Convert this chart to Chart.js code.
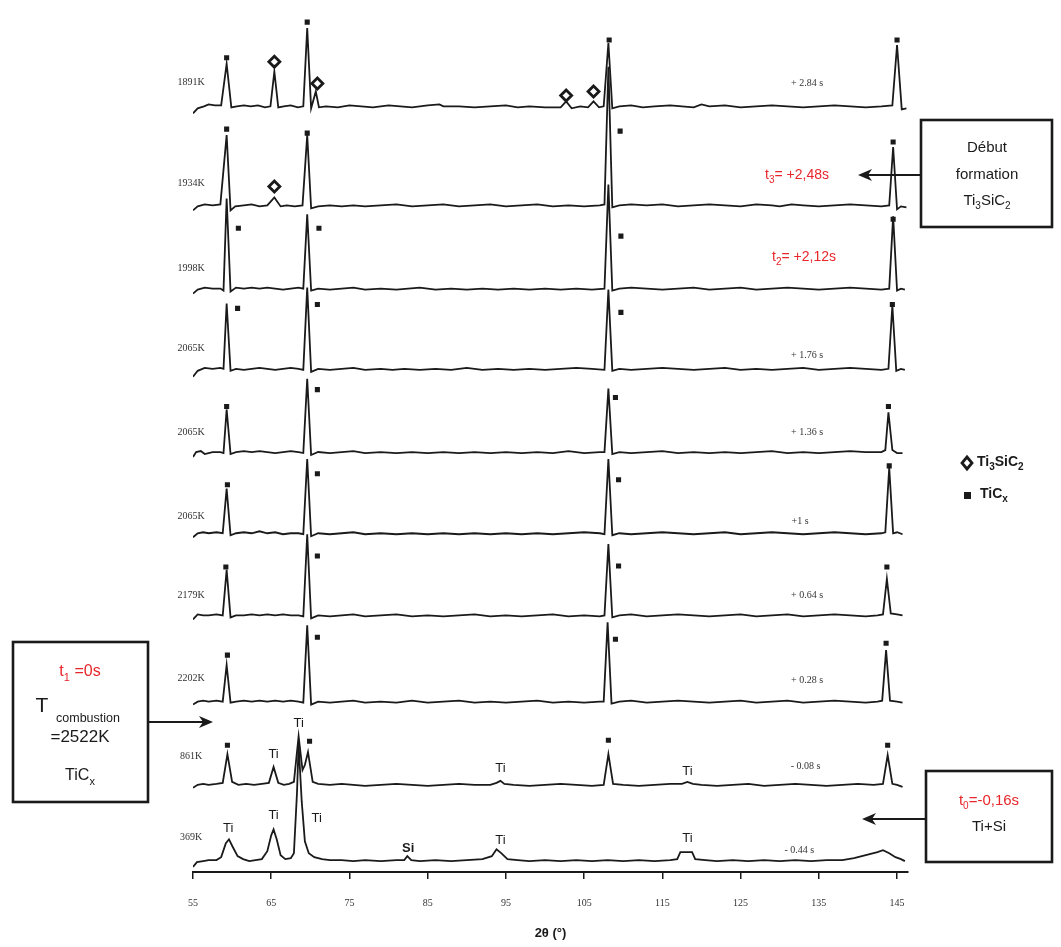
<!DOCTYPE html>
<html>
<head>
<meta charset="utf-8">
<script src="https://cdn.jsdelivr.net/npm/chart.js@4/dist/chart.umd.min.js"></script>
<style>
  html, body { margin: 0; padding: 0; background: #fff; }
  canvas { display: block; }
</style>
</head>
<body>
<canvas id="xrd" width="1061" height="947"></canvas>
<script>
// 2θ axis
const tickValues = [55, 65, 75, 85, 95, 105, 115, 125, 135, 145];
const tickLabels = ['55', '65', '75', '85', '95', '105', '115', '125', '135', '145'];

// one diffractogram per temperature, top to bottom
const tempLabels = ['1891K', '1934K', '1998K', '2065K', '2065K', '2065K', '2179K', '2202K', '861K', '369K'];
const timeLabels = ['+ 2.84 s', null, null, '+ 1.76 s', '+ 1.36 s', '+1 s', '+ 0.64 s', '+ 0.28 s', '- 0.08 s', '- 0.44 s'];
const offsets = [773, 673, 589, 508, 424, 342, 259, 172, 88, 11];

// [2θ, intensity above the trace's own baseline]
const t1891 = [[55,-7],[55.6,-2],[56.4,0],[57,2],[57.8,1],[58.6,1],[59.3,43],[59.9,-1],[60.6,0],[61.5,1],[62.4,0],[63.3,1],[64.2,-1],[64.9,0],[65.4,35],[65.9,-1],[66.6,0],[67.5,1],[68.4,-1],[69.1,0],[69.6,79],[70.1,-2],[70.7,15],[71.1,-1],[72,0],[73.5,-1],[75,1],[76.5,0],[78,-1],[80,1],[81.5,0],[83,-1],[85,1],[86.5,2],[87,0],[89,0],[91,-1],[93,0],[95,1],[96.5,-1],[98,0],[100,-1],[102,-1],[102.7,5],[103.4,-2],[104.5,0],[105.5,-1],[106.2,5],[106.9,-1],[107.5,0],[108.1,64],[108.6,-2],[109.5,0],[111,1],[112.5,-1],[114,0],[116,1],[117.5,0],[119,-1],[120,2],[121,0],[123,1],[125,-1],[127,0],[129,1],[131,0],[133,-1],[135,0],[137,1],[139,0],[141,-1],[143,0],[144.4,1],[145,62],[145.6,-3],[146.2,-2]];
const t1934 = [[55,-5],[55.6,-1],[56.5,1],[57.5,0],[58.5,1],[59.3,71],[59.8,-5],[60.4,-1],[61.5,0],[62.5,1],[63.5,-1],[64.5,0],[65.4,8],[66.2,-1],[67,0],[68,-1],[69,0],[69.6,71],[70.1,-3],[71,-1],[72.5,0],[74,-1],[75.5,0],[77,-1],[79,0],[81,1],[83,-1],[85,0],[87,1],[89,-1],[91,0],[93,1],[95,-1],[97,0],[99,1],[101,-1],[103,0],[105,-1],[107,0],[107.6,1],[108.1,140],[108.6,-2],[109.5,0],[111,1],[113,0],[115,1],[117,-1],[119,0],[121,1],[123,0],[125,-1],[127,1],[129,0],[130,-1],[131.5,1],[133,0],[135,-1],[137,0],[139,1],[141,0],[143,-1],[144,0],[144.5,59],[145,-4],[145.5,-1],[146.2,-2]];
const t1998 = [[55,-5],[55.6,-1],[56.5,1],[57.5,0],[58.5,0],[58.9,-2],[59.3,91],[59.8,-3],[60.5,1],[61.5,0],[62.5,1],[63.5,0],[64.5,1],[65.5,0],[66.5,-1],[67.5,0],[68.5,1],[69.1,0],[69.6,75],[70.1,-2],[71,0],[72.5,-1],[74,0],[75.5,1],[77,-1],[79,0],[81,-1],[82.5,0],[84,1],[86,-1],[88,0],[90,-1],[92,0],[94,-1],[96,0],[98,-1],[100,0],[102,-1],[104,0],[106,-1],[107.6,0],[108.1,105],[108.6,-2],[109.5,0],[111,1],[113,0],[115,-1],[117,0],[119,1],[121,-1],[123,0],[125,1],[127,-1],[129,0],[131,1],[133,0],[135,-1],[137,0],[139,1],[141,0],[143,-1],[144,0],[144.5,73],[145,-2],[145.5,0],[146,-1]];
const t2065a = [[55,-8],[55.6,-2],[56.5,1],[57.5,0],[58.5,1],[58.9,0],[59.3,66],[59.8,-2],[60.5,0],[61.5,-1],[62.5,0],[63.5,1],[64.5,0],[65.5,-1],[66.5,0],[67.5,1],[68.5,0],[69.1,-1],[69.6,82],[70.1,-3],[71,0],[72.5,-1],[74,0],[75.5,1],[77,-1],[79,0],[80.5,-1],[82,0],[84,-1],[86,0],[88,-1],[90,1],[92,-1],[94,0],[96,-1],[98,0],[100,-1],[102,0],[104,1],[106,0],[107.6,-1],[108.1,80],[108.6,-2],[109.5,0],[111,-1],[113,0],[115,1],[117,0],[119,-1],[121,0],[123,1],[125,-1],[127,0],[129,-1],[131,0],[133,1],[135,-1],[137,0],[139,1],[141,0],[143,-1],[143.9,0],[144.4,64],[144.9,-2],[145.5,0],[146,-1]];
const t2065b = [[55,-5],[55.4,0],[56,1],[56.5,-2],[57.5,0],[58.5,0],[58.9,-1],[59.3,43],[59.8,-2],[60.5,0],[61.5,1],[62.5,0],[63.5,1],[64.5,0],[65.5,-1],[66.5,0],[67.5,1],[68.5,0],[69.1,-1],[69.6,74],[70.1,-3],[71,0],[72.5,-1],[74,0],[75.5,1],[77,-1],[79,0],[81,-1],[83,0],[85,-1],[87,0],[89,-1],[91,0],[93,-1],[95,0],[97,-1],[99,0],[101,-1],[103,1],[105,-1],[107,0],[107.6,0],[108.1,64],[108.6,-2],[109.5,0],[111,-1],[113,0],[115,1],[117,-1],[119,0],[121,-1],[123,0],[125,-1],[127,0],[129,1],[131,-1],[133,0],[135,-1],[137,0],[139,1],[141,0],[143,0],[143.5,2],[143.9,40],[144.4,2],[145,-1],[145.7,-1]];
const t2065c = [[55,-4],[55.6,0],[56.3,1],[57,0],[58,1],[58.8,0],[59.3,45],[59.8,-2],[60.5,0],[61.5,1],[62.5,0],[63.5,2],[64.5,0],[65.5,1],[66.5,-1],[67.5,0],[68.5,0],[69.1,-1],[69.6,75],[70.1,-3],[71,0],[72.5,-1],[74,0],[75.5,1],[77,-1],[79,0],[81,-1],[83,0],[85,-1],[87,0],[89,-1],[91,0],[93,-1],[95,0],[97,-1],[99,0],[101,-1],[103,0],[105,1],[107,0],[107.6,-1],[108.1,75],[108.6,-2],[109.5,0],[111,-1],[113,0],[115,1],[117,0],[119,-1],[121,0],[123,1],[125,-1],[127,0],[129,1],[131,0],[133,-1],[135,0],[137,1],[139,0],[141,-1],[143,0],[143.5,1],[144,66],[144.5,0],[145,1],[145.7,-1]];
const t2179 = [[55,-4],[55.6,1],[56.3,0],[57,0],[58,1],[58.8,0],[59.3,46],[59.8,-2],[60.5,0],[61.5,0],[62.5,1],[63.5,0],[64.5,1],[65.5,0],[66.5,1],[67.5,0],[68.5,0],[69.1,-1],[69.6,82],[70.1,-3],[71,0],[72.5,-1],[74,0],[75.5,1],[77,-1],[79,0],[81,1],[83,-1],[85,0],[87,-1],[89,0],[91,1],[93,-1],[95,0],[97,-1],[99,0],[101,1],[103,-1],[105,0],[107,-1],[107.6,0],[108.1,72],[108.6,-2],[109.5,0],[111,1],[113,-1],[115,0],[117,1],[119,0],[121,-1],[123,0],[125,1],[127,-1],[129,0],[131,1],[133,-1],[135,0],[137,1],[139,0],[141,-1],[142.5,0],[143.2,1],[143.7,37],[144.2,2],[145,1],[145.7,0]];
const t2202 = [[55,-3],[55.6,0],[56.3,1],[57,0],[58,1],[58.8,0],[59.3,37],[59.8,-1],[60.5,0],[61.5,1],[62.5,0],[63.5,1],[64.5,0],[65.5,1],[66.5,0],[67.5,1],[68.5,0],[69.1,-1],[69.6,77],[70.1,-3],[71,0],[72.5,-1],[74,0],[75.5,1],[77,-1],[79,0],[81,-1],[83,1],[85,-1],[87,0],[89,1],[91,-1],[93,0],[95,-1],[97,0],[99,1],[101,-1],[103,0],[105,-1],[107,0],[107.5,0],[108,80],[108.5,-2],[109.5,0],[111,1],[113,-1],[115,0],[117,1],[119,0],[121,-1],[123,0],[125,1],[127,-1],[129,0],[131,1],[133,-1],[135,0],[137,1],[139,0],[141,-1],[142.5,0],[143.1,1],[143.6,52],[144.1,1],[145,0],[145.7,-1]];
const t861 = [[55,-3],[55.6,0],[56.3,1],[57,0],[58,1],[58.8,2],[59.4,31],[60,3],[60.8,0],[61.8,1],[62.8,0],[63.8,1],[64.7,2],[65.3,18],[65.9,2],[66.6,0],[67.3,1],[67.9,3],[68.5,49],[69,15],[69.3,20],[69.7,33],[70.3,3],[71,1],[72.5,0],[74,1],[75.5,0],[77,-1],[79,0],[81,1],[83,0],[85,-1],[87,0],[89,1],[91,0],[93,0],[93.8,2],[94.3,4],[94.8,1],[96,0],[98,-1],[100,0],[102,1],[104,0],[106,-1],[107.5,0],[108.1,31],[108.7,1],[110,0],[112,-1],[114,0],[116,1],[117.5,1],[118.2,3],[118.9,1],[120,0],[122,-1],[124,0],[126,1],[128,-1],[130,0],[132,1],[134,0],[136,-1],[138,0],[140,1],[142,0],[143.2,1],[143.8,30],[144.4,1],[145,0],[145.7,-2]];
const t369 = [[55,-6],[55.5,-1],[56.3,0],[57,1],[58,1],[58.6,4],[59.2,18],[59.6,22],[60.1,14],[60.7,5],[61.4,2],[62.2,0],[63,1],[63.8,2],[64.5,10],[65,26],[65.3,32],[65.7,22],[66.2,6],[66.8,2],[67.5,3],[67.9,8],[68.3,70],[68.5,118],[68.9,60],[69.3,20],[69.8,8],[70.5,4],[71.5,2],[72.5,1],[74,1],[75.5,0],[77,1],[79,0],[81,1],[82,1],[82.4,5],[82.9,1],[84,0],[86,1],[88,0],[90,1],[92,2],[93.2,5],[93.8,12],[94.4,8],[95.2,2],[96.5,1],[98,0],[100,1],[102,0],[104,1],[106,0],[108,1],[110,0],[112,1],[114,0],[116,1],[116.9,2],[117.3,9],[118.8,9],[119.2,2],[120.5,1],[122,0],[124,1],[126,0],[128,1],[130,0],[132,1],[134,0],[136,1],[138,1],[139.5,3],[141,6],[142.5,9],[143.2,11],[144,8],[144.8,4],[145.5,2],[146,0]];
const traces = [t1891, t1934, t1998, t2065a, t2065b, t2065c, t2179, t2202, t861, t369];

// phase markers [2θ, stacked level]
const ticMarks = [[59.3,822],[69.6,858],[108.2,840],[145.0,840],
  [59.3,750],[69.6,746],[109.6,748],[144.5,737],
  [60.8,650],[71.1,650],[109.7,642],[144.5,659],
  [60.7,569],[70.9,573],[109.7,565],[144.4,573],
  [59.3,470],[70.9,487],[109.0,479],[143.9,470],
  [59.4,391],[70.9,402],[109.4,396],[144.0,410],
  [59.2,308],[70.9,319],[109.4,309],[143.7,308],
  [59.4,219],[70.9,237],[109.0,235],[143.6,231],
  [59.4,128],[69.9,132],[108.1,133],[143.8,128]];
const tscMarks = [[65.4,818],[70.9,796],[102.7,784],[106.2,788],[65.4,692]];
// Ti / Si reflections of the unreacted mix
const elemLabels = [['Ti',65.3,119],['Ti',68.5,150],['Ti',94.3,105],['Ti',118.2,102],
  ['Ti',59.5,44],['Ti',65.3,57],['Ti',70.8,54],['Si',82.5,24],['Ti',94.3,32],['Ti',118.2,34]];

const RED = '#e8262b';
const INK = '#1a1a1a';

function richText(ctx, parts, x, y, size, align) {
  // parts: [text, sub]
  const sub = Math.round(size * 0.68);
  let w = 0;
  parts.forEach(p => {
    ctx.font = ctx._fw + (p[1] ? sub : size) + 'px "Liberation Sans", Arial, sans-serif';
    w += ctx.measureText(p[0]).width;
  });
  let cx = align === 'center' ? x - w / 2 : (align === 'right' ? x - w : x);
  ctx.textAlign = 'left';
  ctx.textBaseline = 'middle';
  parts.forEach(p => {
    ctx.font = ctx._fw + (p[1] ? sub : size) + 'px "Liberation Sans", Arial, sans-serif';
    ctx.fillText(p[0], cx, p[1] ? y + size * 0.38 : y);
    cx += ctx.measureText(p[0]).width;
  });
}

function arrow(ctx, x1, y, x2) {
  const dir = x2 < x1 ? 1 : -1;
  ctx.beginPath();
  ctx.moveTo(x1, y);
  ctx.lineTo(x2 + dir * 8, y);
  ctx.lineWidth = 2.2;
  ctx.strokeStyle = INK;
  ctx.stroke();
  ctx.beginPath();
  ctx.moveTo(x2, y);
  ctx.lineTo(x2 + dir * 14, y - 6);
  ctx.lineTo(x2 + dir * 10, y);
  ctx.lineTo(x2 + dir * 14, y + 6);
  ctx.closePath();
  ctx.fillStyle = INK;
  ctx.fill();
}

function box(ctx, x1, y1, x2, y2) {
  ctx.lineWidth = 2.6;
  ctx.strokeStyle = INK;
  ctx.strokeRect(x1, y1, x2 - x1, y2 - y1);
}

const annotations = {
  id: 'annotations',
  afterDatasetsDraw(chart) {
    const ctx = chart.ctx;
    const xs = chart.scales.x, ys = chart.scales.y;
    ctx.save();
    ctx.fillStyle = '#333';
    ctx.textAlign = 'center';
    ctx.textBaseline = 'middle';

    // temperatures, left of each trace
    const tempY = [797, 695, 609, 529, 444, 359, 279, 195, 117, 35];
    ctx.font = '10px "Liberation Serif", "Times New Roman", serif';
    tempLabels.forEach((t, i) => ctx.fillText(t, xs.getPixelForValue(55) - 2, ys.getPixelForValue(tempY[i])));

    // times
    const timeY = [796, 0, 0, 522, 444, 354, 279, 193, 107, 22];
    const timeX = [133.5, 0, 0, 133.5, 133.5, 132.6, 133.5, 133.5, 133.3, 132.5];
    timeLabels.forEach((t, i) => {
      if (t) ctx.fillText(t, xs.getPixelForValue(timeX[i]), ys.getPixelForValue(timeY[i]));
    });

    // Ti / Si
    ctx.fillStyle = INK;
    elemLabels.forEach(([t, x, y]) => {
      ctx.font = (t === 'Si' ? 'bold ' : '') + '13px "Liberation Sans", Arial, sans-serif';
      ctx.fillText(t, xs.getPixelForValue(x), ys.getPixelForValue(y));
    });

    // red times with arrows
    ctx.fillStyle = RED;
    ctx._fw = '';
    richText(ctx, [['t', 0], ['3', 1], ['= +2,48s', 0]], 797, 175, 14, 'center');
    richText(ctx, [['t', 0], ['2', 1], ['= +2,12s', 0]], 804, 257, 14, 'center');
    arrow(ctx, 921, 175, 858);

    // box: début formation
    box(ctx, 921, 120, 1052, 227);
    ctx.fillStyle = INK;
    richText(ctx, [['Début', 0]], 987, 148, 15, 'center');
    richText(ctx, [['formation', 0]], 987, 175, 15, 'center');
    richText(ctx, [['Ti', 0], ['3', 1], ['SiC', 0], ['2', 1]], 987, 201, 15, 'center');

    // box: combustion
    box(ctx, 13, 642, 148, 802);
    arrow(ctx, 148, 722, 213);
    ctx.fillStyle = RED;
    richText(ctx, [['t', 0], ['1', 1], [' =0s', 0]], 80, 672, 16, 'center');
    ctx.fillStyle = INK;
    richText(ctx, [['T', 0]], 42, 706, 21, 'center');
    richText(ctx, [['combustion', 0]], 88, 719, 12.5, 'center');
    richText(ctx, [['=2522K', 0]], 80, 737, 17, 'center');
    richText(ctx, [['TiC', 0], ['x', 1]], 80, 776, 16, 'center');

    // box: t0
    box(ctx, 926, 771, 1052, 862);
    arrow(ctx, 926, 819, 862);
    ctx.fillStyle = RED;
    richText(ctx, [['t', 0], ['0', 1], ['=-0,16s', 0]], 989, 801, 15, 'center');
    ctx.fillStyle = INK;
    richText(ctx, [['Ti+Si', 0]], 989, 827, 15, 'center');

    // legend
    ctx.beginPath();
    ctx.moveTo(967, 457); ctx.lineTo(972, 463); ctx.lineTo(967, 469); ctx.lineTo(962, 463);
    ctx.closePath();
    ctx.lineWidth = 2.8;
    ctx.strokeStyle = INK;
    ctx.stroke();
    ctx.fillStyle = INK;
    ctx._fw = 'bold ';
    richText(ctx, [['Ti', 0], ['3', 1], ['SiC', 0], ['2', 1]], 977, 462, 14, 'left');
    ctx.fillRect(964, 492, 7, 7);
    richText(ctx, [['TiC', 0], ['x', 1]], 980, 494, 14, 'left');
    ctx.restore();
  }
};

const datasets = traces.map((pts, i) => ({
  data: pts.map(p => ({ x: p[0], y: offsets[i] + p[1] })),
  showLine: true,
  borderColor: INK,
  borderWidth: 1.8,
  pointRadius: 0,
  tension: 0
}));
datasets.push({
  data: ticMarks.map(p => ({ x: p[0], y: p[1] })),
  pointStyle: 'rect',
  pointRadius: 3.6,
  backgroundColor: INK,
  borderColor: INK,
  borderWidth: 0
});
datasets.push({
  data: tscMarks.map(p => ({ x: p[0], y: p[1] })),
  pointStyle: 'rectRot',
  pointRadius: 5.5,
  backgroundColor: '#fff',
  borderColor: INK,
  borderWidth: 2.8
});

new Chart(document.getElementById('xrd'), {
  type: 'scatter',
  data: { datasets },
  options: {
    responsive: false,
    animation: false,
    devicePixelRatio: 1,
    layout: { padding: { left: 193, right: 153, top: 0, bottom: 0 } },
    plugins: { legend: { display: false }, tooltip: { enabled: false } },
    scales: {
      x: {
        type: 'linear',
        min: 55,
        max: 146.4,
        afterBuildTicks: ax => { ax.ticks = tickValues.map(v => ({ value: v })); },
        afterFit: ax => { ax.height = 75; },
        border: { color: INK, width: 2 },
        grid: { drawOnChartArea: false, drawTicks: true, tickLength: 7, color: INK, lineWidth: 1.5 },
        ticks: {
          padding: 18,
          color: '#333',
          autoSkip: false,
          maxRotation: 0,
          font: { family: '"Liberation Serif", "Times New Roman", serif', size: 10 },
          callback: (v, i) => tickLabels[i]
        },
        title: {
          display: true,
          text: '2θ (°)',
          color: INK,
          font: { family: '"Liberation Sans", Arial, sans-serif', size: 13, weight: 'bold' },
          padding: { top: 0, bottom: 6 }
        }
      },
      y: { display: false, min: 0, max: 872 }
    }
  },
  plugins: [annotations]
});
</script>
</body>
</html>
